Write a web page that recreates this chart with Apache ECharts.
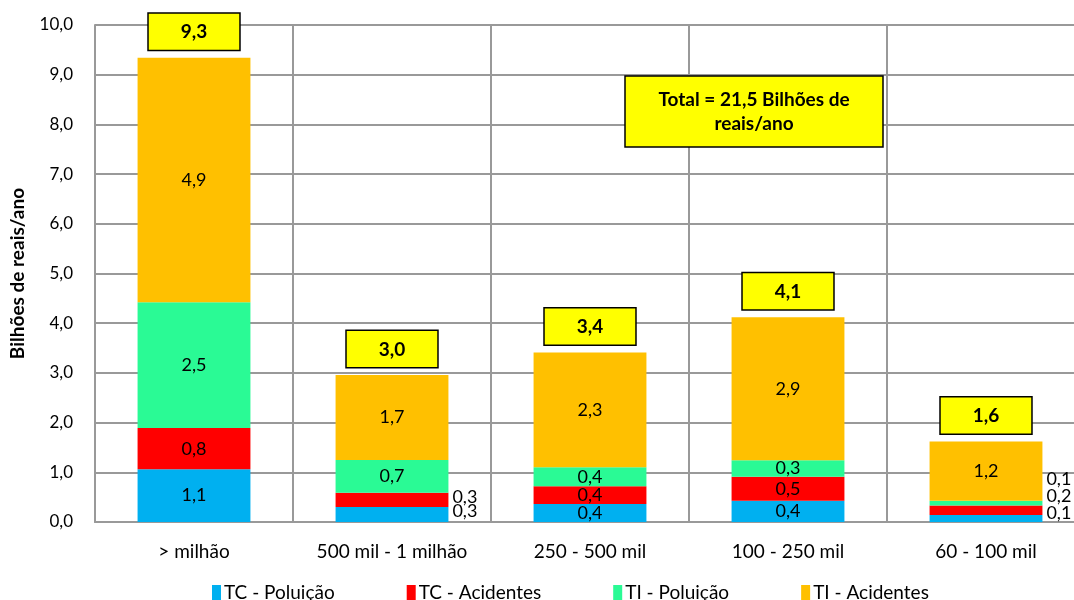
<!DOCTYPE html>
<html>
<head>
<meta charset="utf-8">
<script src="https://cdn.jsdelivr.net/npm/echarts@6/dist/echarts.min.js"></script>
<style>
html, body { margin:0; padding:0; background:#fff; }
#chart { width:1074px; height:600px; }
</style>
</head>
<body>
<div id="chart"></div>
<script type="text/javascript">
// dados (bilhões de reais/ano)
var categorias = ['> milhão', '500 mil - 1 milhão', '250 - 500 mil', '100 - 250 mil', '60 - 100 mil'];
var tcPoluicao  = [1.06, 0.30, 0.36, 0.43, 0.14];
var tcAcidentes = [0.83, 0.29, 0.36, 0.48, 0.19];
var tiPoluicao  = [2.53, 0.66, 0.38, 0.33, 0.10];
var tiAcidentes = [4.92, 1.71, 2.31, 2.88, 1.19];
var yTicks = [0, 10, 1];
var textoTotal = 'Total = 21,5 Bilhões de\nreais/ano';

var FONT = 'Lato';

function fmt(v) {
    return (Math.round(v * 10) / 10).toFixed(1).replace('.', ',');
}

// rótulos pequenos que ficam ao lado da barra: {indice: deslocamento vertical}
var rotulosLado = {
    'TC - Poluição':  {1: -3, 4: -5},
    'TC - Acidentes': {1: -3, 4: -14},
    'TI - Poluição':  {4: -24}
};

var seriesDef = [
    ['TC - Poluição', tcPoluicao, '#00B0F0'],
    ['TC - Acidentes', tcAcidentes, '#FF0000'],
    ['TI - Poluição', tiPoluicao, '#2AFA95'],
    ['TI - Acidentes', tiAcidentes, '#FFC000']
];

var totais = categorias.map(function (c, i) {
    return tcPoluicao[i] + tcAcidentes[i] + tiPoluicao[i] + tiAcidentes[i];
});

var series = seriesDef.map(function (s) {
    var lado = rotulosLado[s[0]] || {};
    return {
        name: s[0],
        type: 'bar',
        stack: 'total',
        barWidth: '57%',
        itemStyle: { color: s[2] },
        label: {
            show: true,
            position: 'inside',
            color: '#000',
            fontFamily: FONT,
            fontSize: 18,
            textBorderWidth: 0,
            formatter: function (p) { return fmt(p.value); }
        },
        data: s[1].map(function (v, i) {
            if (lado[i] === undefined) return v;
            return {
                value: v,
                label: { position: 'right', distance: 4, offset: [0, lado[i]] }
            };
        })
    };
});

// barra de altura zero no topo da pilha, só para o rótulo do total
series.push({
    name: 'Total',
    type: 'bar',
    stack: 'total',
    barWidth: '57%',
    silent: true,
    itemStyle: { color: 'rgba(0,0,0,0)' },
    label: {
        show: true,
        position: 'top',
        distance: 8,
        formatter: function (p) { return fmt(totais[p.dataIndex]); },
        fontFamily: FONT,
        fontSize: 19,
        fontWeight: 'bold',
        color: '#000',
        textBorderWidth: 0,
        textShadowBlur: 0,
        backgroundColor: '#FFFF00',
        borderColor: '#000',
        borderWidth: 1.5,
        padding: [9, 32, 8, 32]
    },
    data: totais.map(function () { return 0; })
});

var myChart = echarts.init(document.getElementById('chart'));

var option = {
    animation: false,
    textStyle: { fontFamily: FONT },
    grid: { left: 95, top: 25, right: -11, bottom: 78, outerBoundsMode: 'none' },
    legend: {
        data: ['TC - Poluição', 'TC - Acidentes', 'TI - Poluição', 'TI - Acidentes'],
        left: 207,
        top: 578,
        icon: 'rect',
        itemWidth: 9,
        itemHeight: 15,
        itemGap: 72,
        textStyle: { fontFamily: FONT, fontSize: 19, color: '#000', padding: [0, 0, 0, -2] }
    },
    xAxis: {
        type: 'category',
        data: categorias,
        axisTick: { show: false },
        axisLine: { lineStyle: { color: '#999', width: 2 } },
        splitLine: { show: true, interval: 0, lineStyle: { color: '#999', width: 2 } },
        axisLabel: { color: '#000', fontSize: 19, fontFamily: FONT, margin: 20, interval: 0 }
    },
    yAxis: {
        type: 'value',
        min: yTicks[0],
        max: yTicks[1],
        interval: yTicks[2],
        name: 'Bilhões de reais/ano',
        nameLocation: 'middle',
        nameGap: 68,
        nameTextStyle: { color: '#000', fontSize: 19, fontWeight: 'bold', fontFamily: FONT },
        axisLine: { show: true, lineStyle: { color: '#999', width: 2 } },
        axisTick: { show: false },
        splitLine: { lineStyle: { color: '#999', width: 2 } },
        axisLabel: {
            color: '#000', fontSize: 17, fontFamily: FONT, margin: 22,
            formatter: function (v) { return v.toFixed(1).replace('.', ','); }
        }
    },
    graphic: [
        {
            type: 'rect',
            z: 100,
            x: 625, y: 76,
            shape: { width: 258, height: 71 },
            style: { fill: '#FFFF00', stroke: '#000', lineWidth: 1.5 }
        },
        {
            type: 'text',
            z: 101,
            x: 754, y: 88,
            style: {
                text: textoTotal,
                fontFamily: FONT, fontSize: 19, fontWeight: 'bold',
                fill: '#000', align: 'center', verticalAlign: 'top', lineHeight: 24
            }
        }
    ],
    series: series
};

myChart.setOption(option);
</script>
</body>
</html>
